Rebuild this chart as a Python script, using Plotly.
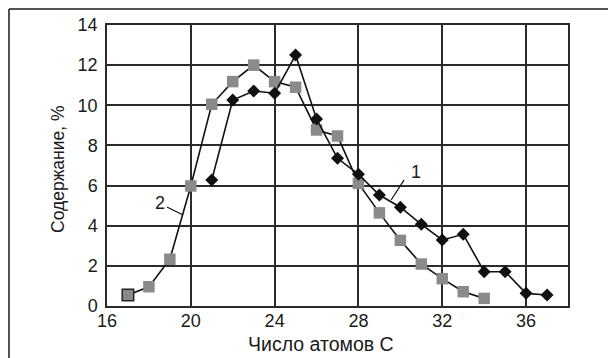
import plotly.graph_objects as go

# Carbon-number distribution, two samples
carbon_1 = [21, 22, 23, 24, 25, 26, 27, 28, 29, 30, 31, 32, 33, 34, 35, 36, 37]
content_1 = [6.28, 10.26, 10.71, 10.6, 12.5, 9.32, 7.36, 6.56, 5.53, 4.92, 4.07, 3.29, 3.57, 1.71, 1.71, 0.63, 0.55]

carbon_2 = [17, 18, 19, 20, 21, 22, 23, 24, 25, 26, 27, 28, 29, 30, 31, 32, 33, 34]
content_2 = [0.55, 0.96, 2.33, 5.98, 10.05, 11.18, 12.0, 11.18, 10.9, 8.77, 8.47, 6.11, 4.64, 3.27, 2.09, 1.36, 0.71, 0.38]

x_ticks = [16, 20, 24, 28, 32, 36]
y_ticks = [0, 2, 4, 6, 8, 10, 12, 14]

FONT = "Liberation Sans, Arial, sans-serif"
GRID = "#2b2b2b"
GREY = "#8a8a8a"
TEXT = "#1a1a1a"

fig = go.Figure()

fig.add_trace(go.Scatter(
    x=carbon_2, y=content_2, mode="lines+markers", name="2",
    line=dict(color="#111111", width=1.6),
    marker=dict(symbol="square", size=11.5, color=GREY,
                line=dict(color=["#222222"] + [GREY] * (len(carbon_2) - 1),
                          width=[1.5] + [0] * (len(carbon_2) - 1))),
    cliponaxis=False,
))

fig.add_trace(go.Scatter(
    x=carbon_1, y=content_1, mode="lines+markers", name="1",
    line=dict(color="#111111", width=1.6),
    marker=dict(symbol="diamond", size=10, color="#111111"),
    cliponaxis=False,
))

axis_common = dict(
    showgrid=True, gridcolor=GRID, gridwidth=1.5,
    showline=True, linecolor=GRID, linewidth=1.5, mirror=True,
    zeroline=False, ticks="",
    tickfont=dict(family=FONT, size=18, color=TEXT),
)

fig.update_xaxes(range=[16, 38], tickvals=x_ticks, ticklabelstandoff=-2, **axis_common)
fig.update_yaxes(range=[0, 14], tickvals=y_ticks, ticklabelstandoff=4, **axis_common)

# series labels with leader lines
fig.add_annotation(x=30.75, y=6.68, text="1", showarrow=False,
                   xanchor="center", yanchor="middle",
                   font=dict(family=FONT, size=18, color=TEXT))
fig.add_shape(type="line", x0=30.18, y0=6.28, x1=29.56, y1=5.28,
              line=dict(color="#111111", width=1.2))
fig.add_annotation(x=18.53, y=5.13, text="2", showarrow=False,
                   xanchor="center", yanchor="middle",
                   font=dict(family=FONT, size=18, color=TEXT))
fig.add_shape(type="line", x0=18.86, y0=4.93, x1=19.63, y1=4.53,
              line=dict(color="#111111", width=1.2))

# axis titles
fig.add_annotation(xref="paper", yref="paper", x=0.464, y=-0.136,
                   xanchor="center", yanchor="middle",
                   text="Число атомов С", showarrow=False,
                   font=dict(family=FONT, size=19.5, color=TEXT))
fig.add_annotation(xref="paper", yref="paper", x=-0.106, y=0.488,
                   xanchor="center", yanchor="middle",
                   text="Содержание, %", showarrow=False, textangle=-90,
                   font=dict(family=FONT, size=17.5, color=TEXT))

# outer frame (top and left edges)
fig.add_shape(type="line", xref="paper", yref="paper",
              x0=-0.2126, y0=1.057, x1=1.2, y1=1.057,
              line=dict(color=TEXT, width=1.5))
fig.add_shape(type="line", xref="paper", yref="paper",
              x0=-0.2126, y0=1.057, x1=-0.2126, y1=-0.3,
              line=dict(color=TEXT, width=1.5))

fig.update_layout(
    width=608, height=358,
    margin=dict(l=107, r=40, t=25, b=52),
    paper_bgcolor="white", plot_bgcolor="white",
    showlegend=False,
    font=dict(family=FONT),
)

fig.write_html("out.html")
